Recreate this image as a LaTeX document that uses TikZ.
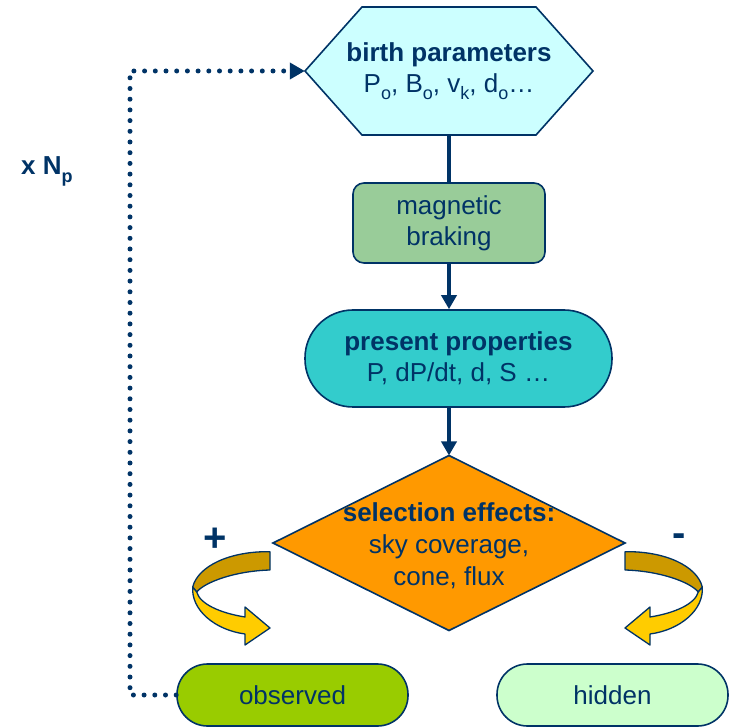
\documentclass[tikz,border=0pt]{standalone}
\usepackage{fontspec}
\setmainfont{Liberation Sans}
\usetikzlibrary{arrows.meta,shapes.geometric}
\definecolor{navy}{HTML}{003366}
\definecolor{hexcol}{HTML}{CCFFFF}
\definecolor{magcol}{HTML}{99CC99}
\definecolor{prescol}{HTML}{33CCCC}
\definecolor{selcol}{HTML}{FF9900}
\definecolor{obscol}{HTML}{99CC00}
\definecolor{hidcol}{HTML}{CCFFCC}
\definecolor{golddark}{HTML}{CC9900}
\definecolor{goldlight}{HTML}{FFCC00}
\newcommand\sbs[1]{\raisebox{-7.5pt}{\fontsize{18}{18}\selectfont #1}}
\newcommand\curlarr{%
 \filldraw[draw=navy, line width=1.3pt, fill=golddark, line join=round]
   (270,551.7) .. controls (230,551) and (198,566) .. (192.7,587) -- (196.7,592)
   .. controls (205,582) and (235,571) .. (270,570) -- cycle;
 \filldraw[draw=navy, line width=1.3pt, fill=goldlight, line join=round]
   (192.7,587) .. controls (191,610) and (215,630) .. (245,634) -- (245,645) -- (270,628)
   -- (245,607) -- (245,617) .. controls (220,613) and (200,604) .. (196.7,592) -- cycle;}
\begin{document}
\begin{tikzpicture}[x=1pt,y=-1pt,
  txt/.style={font=\fontsize{26}{31}\selectfont, text=navy, align=center},
  box/.style={draw=navy, line width=1.6pt},
  conn/.style={draw=navy, line width=4.5pt},
  tip/.style={-{Triangle[length=14pt,width=15pt]}},
  sign/.style={font=\fontsize{40}{40}\selectfont\bfseries, text=navy}]
\useasboundingbox (0,0) rectangle (729,727);
% hexagon
\filldraw[box, fill=hexcol, line join=miter] (305,71) -- (362,7) -- (536,7) -- (593,71) -- (536,135) -- (362,135) -- cycle;
\node[txt, minimum width=288pt, minimum height=128pt, inner sep=0pt] (birth) at (449,71)
  {\textbf{birth parameters}\\P\sbs{o}, B\sbs{o}, v\sbs{k}, d\sbs{o}…};
\node[txt, box, fill=magcol, rounded corners=11pt, minimum width=192pt, minimum height=80pt, inner sep=0pt] (mag) at (449,223) {magnetic\\braking};
\node[txt, box, fill=prescol, rounded corners=48pt, minimum width=307pt, minimum height=97pt, inner sep=0pt] (pres) at (458.5,358.5)
  {\textbf{present properties}\\P, dP/dt, d, S …};
\node[diamond, box, fill=selcol, minimum width=352pt, minimum height=175pt, inner sep=0pt, outer sep=0pt] (sel) at (449,543) {};
\node[txt, font=\fontsize{26}{32}\selectfont] (seltxt) at (449,546)
  {\textbf{selection effects:}\\sky coverage,\\cone, flux};
\node[txt, box, fill=obscol, rounded corners=30.5pt, minimum width=231pt, minimum height=62pt, inner sep=0pt] (obs) at (292.5,695) {observed};
\node[txt, box, fill=hidcol, rounded corners=30.5pt, minimum width=231pt, minimum height=62pt, inner sep=0pt] (hid) at (612.5,695) {hidden};
% connectors
\draw[conn] (birth.south) -- (mag.north);
\draw[conn, tip] (mag.south) -- (mag.south |- pres.north);
\draw[conn, tip] (sel.north |- pres.south) -- (sel.north);
% feedback loop
\coordinate (c1) at (130,695);
\coordinate (c2) at (130,71);
\draw[navy, line width=5pt, line cap=round, dash pattern=on 0pt off 10.7pt, -{Triangle[length=15pt,width=16pt]}]
  (obs.west) -- (c1) -- (c2) -- (birth.west);
\node[txt, anchor=base west, inner sep=0pt] (np) at (21,175) {\textbf{x N\sbs{\bfseries p}}};
% curled arrows
\curlarr
\begin{scope}[xshift=895pt, xscale=-1]
\curlarr
\end{scope}
\node[sign] (plus) at (215,540) {+};
\node[sign] (minus) at (679,540) {-};
\end{tikzpicture}
\end{document}
